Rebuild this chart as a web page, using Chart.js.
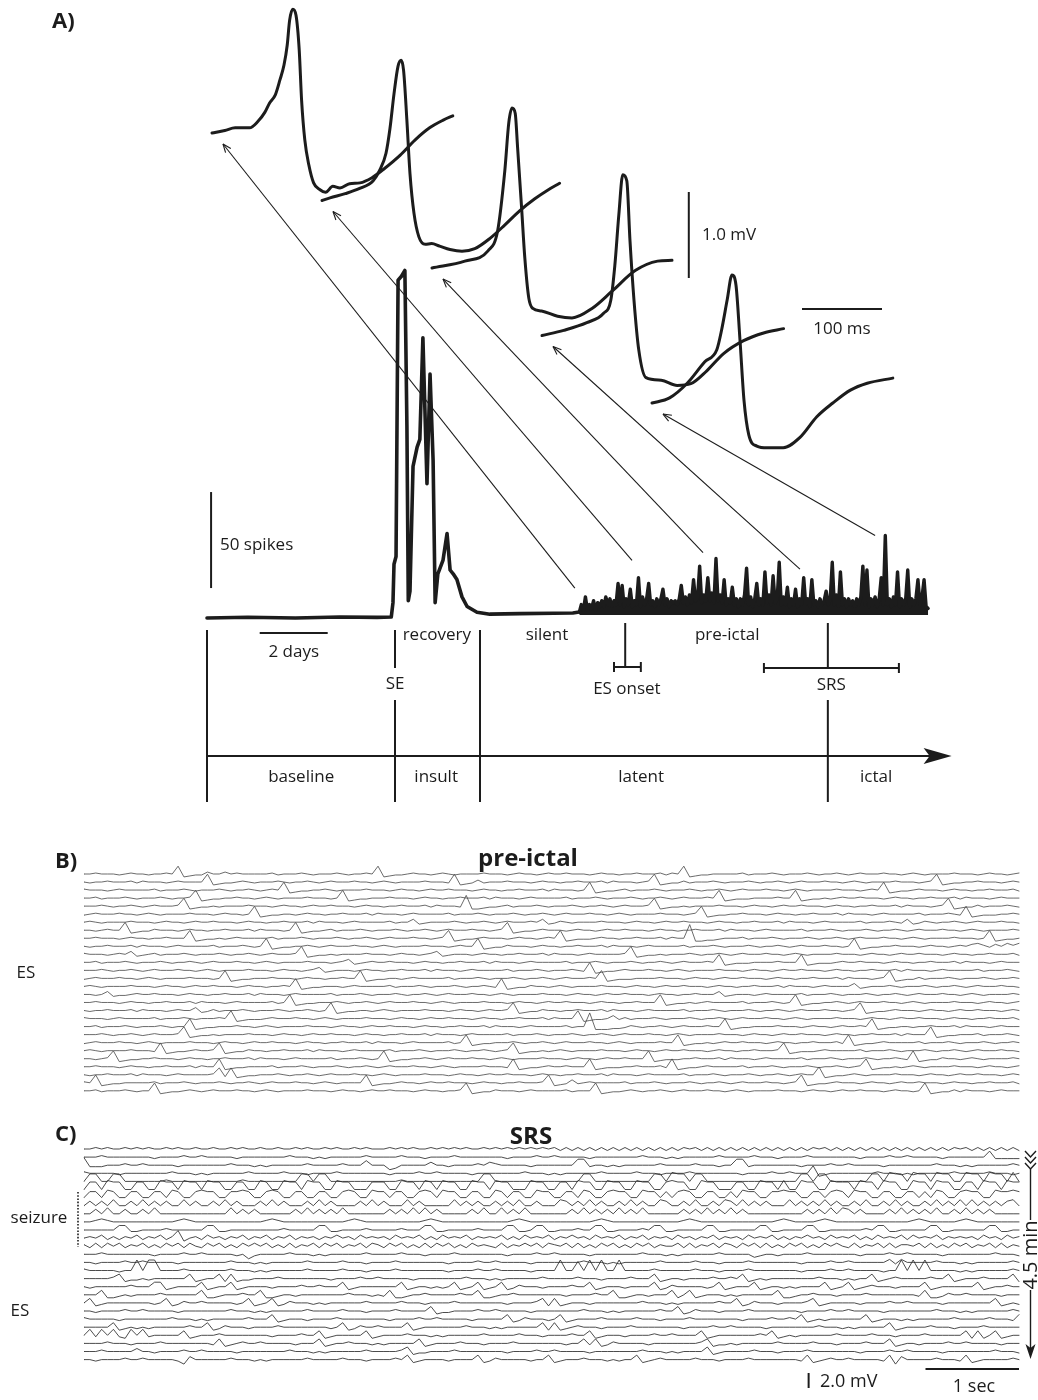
<!DOCTYPE html>
<html>
<head>
<meta charset="utf-8">
<script src="https://cdn.jsdelivr.net/npm/chart.js@4.4.1/dist/chart.umd.min.js"></script>
<style>
  body { margin: 0; background: #fff; }
  #page { position: relative; width: 1038px; height: 1400px; background: #fff; }
  canvas { position: absolute; left: 0; }
</style>
</head>
<body>
<div id="page">
  <canvas id="panelA" width="1038" height="810" style="top:0"></canvas>
  <canvas id="panelB" width="1038" height="260" style="top:840px"></canvas>
  <canvas id="panelC" width="1038" height="280" style="top:1120px"></canvas>
</div>
<script>
// ---------- A) spike count over days ----------
const preDays = [0, 1.2, 2.6, 3.9, 5.0, 5.42, 5.47, 5.5, 5.56, 5.62, 5.72, 5.82, 5.88, 5.92, 5.97, 6.06, 6.18, 6.26, 6.35, 6.47, 6.56, 6.65, 6.71, 6.79, 6.94, 7.06, 7.15, 7.24, 7.35, 7.5, 7.65, 7.94, 8.32, 9.2, 10.2, 10.76, 10.9];
const preSpikes = [0, 0.4, 0, 0.5, 0.3, 0.5, 8, 28, 32, 176, 178, 181, 100, 9, 14, 79, 89, 93, 146, 70, 127, 82, 8, 23, 30, 44, 25, 23, 20, 11, 6, 3, 2, 2.3, 2.5, 2.6, 3];
// latent period, one bin every 0.06 day from day 10.95
const latentStartDay = 10.95;
const latentStepDays = 0.06;
const latentSpikes = [
  3, 7, 4, 11, 4, 7, 5, 9, 4, 8,
  6, 9, 6, 11, 7, 10, 6, 9, 7, 18,
  7, 17, 6, 10, 7, 15, 6, 9, 7, 21,
  6, 11, 7, 10, 18, 7, 9, 6, 10, 7,
  10, 15, 7, 10, 6, 9, 8, 9, 7, 10,
  17, 8, 11, 7, 12, 8, 20, 9, 11, 27,
  8, 12, 9, 21, 9, 13, 8, 31, 9, 12,
  8, 20, 7, 10, 8, 16, 7, 10, 6, 10,
  7, 12, 26, 7, 11, 6, 10, 18, 7, 10,
  7, 24, 8, 12, 7, 22, 8, 10, 29, 7,
  11, 7, 16, 6, 10, 7, 15, 6, 10, 7,
  21, 7, 10, 6, 20, 7, 9, 6, 10, 7,
  9, 14, 7, 10, 29, 7, 12, 6, 24, 7,
  10, 6, 10, 7, 9, 6, 10, 7, 11, 27,
  7, 25, 6, 10, 7, 11, 6, 10, 21, 7,
  43, 7, 10, 6, 11, 7, 24, 6, 10, 7,
  10, 25, 6, 10, 7, 10, 20, 7, 11, 20,
  6, 5
];

// averaged spike waveforms (ms, mV), one per time point
const wf1T = [0, 16, 29, 47, 57, 66, 72, 79, 85, 90, 94, 97, 101, 105, 109, 112, 116, 121, 127, 135, 142, 151, 160, 172, 185, 200, 216, 235, 254, 272, 289, 301];
const wf1V = [0, 0.03, 0.06, 0.06, 0.13, 0.24, 0.35, 0.44, 0.62, 0.79, 1.02, 1.31, 1.44, 1.37, 0.97, 0.38, -0.08, -0.37, -0.58, -0.66, -0.69, -0.62, -0.64, -0.59, -0.58, -0.52, -0.41, -0.26, -0.08, 0.06, 0.15, 0.2];
const wf2T = [0, 10, 29, 47, 64, 72, 80, 85, 90, 95, 99, 102, 106, 110, 115, 121, 129, 137, 147, 160, 175, 191, 210, 229, 247, 266, 282, 297];
const wf2V = [0, 0.03, 0.08, 0.14, 0.23, 0.35, 0.55, 0.84, 1.24, 1.56, 1.63, 1.51, 0.95, 0.31, -0.15, -0.42, -0.51, -0.5, -0.53, -0.57, -0.59, -0.56, -0.44, -0.28, -0.12, 0.02, 0.12, 0.2];
const wf3T = [0, 41, 70, 82, 91, 96, 100, 104, 107, 112, 116, 121, 126, 137, 157, 175, 200, 225, 254, 282, 300];
const wf3V = [0, 0.08, 0.2, 0.43, 1.13, 1.69, 1.86, 1.8, 1.4, 0.7, 0.12, -0.35, -0.47, -0.5, -0.56, -0.58, -0.47, -0.27, -0.03, 0.08, 0.09];
const wf4T = [0, 27, 56, 77, 86, 91, 96, 101, 106, 110, 115, 121, 130, 149, 169, 186, 206, 227, 252, 277, 302];
const wf4V = [0, 0.06, 0.15, 0.26, 0.41, 0.81, 1.4, 1.87, 1.8, 1.1, 0.41, -0.17, -0.49, -0.52, -0.58, -0.56, -0.41, -0.21, -0.06, 0.03, 0.08];
const wf5T = [0, 22, 44, 66, 81, 87, 94, 100, 105, 110, 115, 121, 131, 144, 164, 185, 206, 226, 248, 269, 301];
const wf5V = [0, 0.06, 0.23, 0.48, 0.62, 0.85, 1.2, 1.49, 1.37, 0.73, 0.03, -0.37, -0.5, -0.52, -0.52, -0.4, -0.16, 0, 0.15, 0.23, 0.29];

// where each waveform was taken on the count trace
const arrowDays = [10.82, 12.5, 14.59, 17.44, 19.65];
const arrowSpikes = [15.6, 30, 34, 25.5, 43];

// timeline
const phaseNames = ["baseline", "insult", "latent", "ictal"];
const phaseLabelDays = [2.77, 6.74, 12.77, 19.68];
const periodNames = ["recovery", "silent", "pre-ictal"];
const periodLabelDays = [6.76, 10.0, 15.3];
const seDay = 5.53;
const insultEndDay = 8.03;
const esOnsetDay = 12.3;
const esOnsetRange = [11.97, 12.76];
const srsDay = 18.26;
const srsRange = [16.38, 20.35];
const timelineEndDay = 21.9;

// ---------- B) pre-ictal and C) SRS traces, 10 s each ----------
// one char per sample (base 36), 3 = baseline
const preictalTraces = [
  "3343332343 323343b012 2533534333 3342333432 3334323343 b012234332 3432333343 3323433234 3343332343 3233433342 43b0122333 3342333432 3334323343 2343334332 3432333343 3323433234",
  "3233433342 4333234333 3b01223432 3334323343 2343334332 3432333343 332b012523 3343332343 3233433342 4333234b01 2242333432 3334323343 2343334332 3432333343 33234b0122 3343332343",
  "4333234333 3342333432 3334323343 2343b01223 3432333343 3323433234 3343332343 3233433342 433323b012 2342333432 3334323343 2343334332 3432333343 332343b012 2343332343 3233433342",
  "3342333432 333432334b 0122334332 3432333343 3323b01223 3343332343 3233433342 4333234333 3342333432 3334323343 23433343b0 1222333343 3b01223234 3343332343 3233433342 4333234333",
  "3334323343 2343334b01 2232333343 3323433234 3343332343 3233433342 43332e0012 2342333432 3334323343 2343334b01 2232333343 3323433234 3343332343 3233433342 4333234b01 2242333432",
  "2343334332 3432333343 332343323b 0122332343 3233433342 4333234333 3342333432 3334323343 2343334332 3432333343 33234b0122 3343332343 3233433342 4333234333 3342333432 b012223343",
  "3432333343 3323433234 3343332343 3233433342 4333234333 3342336123 3334323343 2343334361 2432333343 3323433234 3343332343 3233433342 4333234333 3342333432 6124323343 2343334332",
  "3323433b01 2243332343 3233433342 433323b012 2342333432 3334323343 2343334332 34b0122343 3323433234 3343332343 3233433342 4333234333 3342333432 3334323343 2343334332 3432333343",
  "3343332343 32334333b0 1223234333 3342333432 3334323343 2343334332 34b0122343 3323433234 3b01222343 3233433342 433h001123 3342333432 3334323343 2343334332 3432333343 3323b01223",
  "3233433342 4333234333 3342333432 3b01223343 2343334332 3432333343 3323433b01 2243332343 3233433342 4333234333 3342333432 3334323343 2343334332 3b01223343 3323433234 3564253646",
  "4333234361 2342333432 3334323343 2343334b01 2232333343 3323433234 6123332343 3233433342 4333234333 334b012232 3334323343 2343334332 3432333343 3323433234 3343332343 3233433342",
  "3342333432 3334323343 2343334332 3432333343 3323461234 3343332343 3233433342 4333234333 3342333432 3334323343 23433343b0 1222333343 33b0122234 3343332343 3233433342 4333234333",
  "3334323343 2343334332 3432333343 3323433234 6123332343 3233433342 4333234333 3342333432 333432b012 2343334332 3432333343 3323433234 3343332343 3233433342 4333234333 3342333432",
  "2343334332 3432333343 3323b01223 3343332343 3233433b01 2233234333 3342333432 3334323343 23433343b0 1222333343 3323433234 3343332343 3233433342 4333234b01 2242333432 3334323343",
  "3432333343 3323433234 3343332343 323343b012 2333234333 3342333432 3334323343 2b01224332 3432333343 3323433234 3343332343 3233433342 4333234333 3612333432 3334323343 2343334332",
  "3323612234 3343332343 3233433342 4333234333 3342333432 3334323343 2343334332 3432333343 3323433234 3343332343 3233433361 2333234333 3342333432 3334323343 2343334332 3432333343",
  "3343332343 3233433342 4333234333 33423b0122 3334323343 2343334332 3432333343 3323433234 3343332343 32334333b0 1223234333 3342333432 3b01223343 2343334332 3432333343 3323433234",
  "3233433342 4333234336 1242333432 3334323343 23b0122332 3432333343 3323433234 334b012243 3233433342 4333234333 3342333432 3334323343 2343334332 34b0122343 3323433234 3343332343",
  "4333234333 3342333432 33343b0122 2343334332 3432333343 3323433234 3343332343 3233433342 4333b01223 6242333432 3334323343 2343334332 3432333343 3323433234 3343332343 3233433342",
  "3342333432 33343233b0 1223334332 3432333343 3323433234 3343332343 3233433342 4333234333 334233h000 1124323343 234333433b 0122333343 3323433234 3343b01223 3233433342 4333234333",
  "3334323343 2343334b01 2232333343 3323433234 3343332343 3233433342 4333234333 3342333432 3334323343 2343334332 3432333343 3323433234 3343332343 3233433342 4333b01223 3342333432",
  "2343334332 3432333343 3323433234 3343332343 3233433342 4333234333 33423b0122 3334323343 2343334332 3432333343 3b01223234 3343332343 3233433342 b012234333 3342333432 3334323343",
  "3432333343 332b012234 334b012243 3233433342 4333234333 3342333432 3334323343 234b012232 3432333343 3323433234 3343332343 323343334b 0122234333 3342333432 3334323343 2343334332",
  "33234b0122 3343332343 3233433342 4333234333 3342333432 3b01223343 2343334332 3432333343 3323433234 334333b012 2233433342 4333234333 3342333432 3334323343 2b01224332 3432333343",
  "3343332343 3233433342 433b012233 3342333432 3334323343 2343334332 3432333343 332b012234 334333b012 2233433342 b012234333 3342333432 3334323343 234b012232 3432333343 3323433234",
  "3233433342 4333234333 334a1a0122 3334323343 2343334332 3432333343 3323433234 3343332343 3233433342 4333234333 3342333432 3334323343 23433b0122 3432333343 3323433234 3343332343",
  "43b0122333 3342333432 3334323343 2343334332 34323333b0 1223433234 3343332343 323343334b 0126234333 3342333432 3334323343 2343334332 34b0122343 3323433234 3343332343 3233433342",
  "3342333432 33b0122343 2343334332 3432333343 3323433234 3343332343 32334b0122 4333234333 3342333b01 2234323343 2343334332 3432333343 3323433234 3343332343 323b012242 4333234333"
];
const srsTraces = [
  "3343433434 3433434334 3343343433 4334334343 3434334343 3343434334 3434343343 4343434343 4242424242 4242424242 4243424242 4242424242 4242434242 4242424242 4242424243 4242424242",
  "3334333333 3323333433 4333332333 3333343332 3233333343 3333433323 3334333333 3323333433 4333332333 3333343332 3233333343 3333433323 3334333333 3323333433 4333332333 3333722222",
  "8222333433 4333332333 3333343332 3233333343 3333433363 3301333335 3323333435 4333332333 3333772332 3233333343 3333433323 3772333333 3323333433 4333332333 3333343332 3233333343",
  "4333332333 3333343332 3233333343 3333433323 3334333333 3323333433 4333332333 3333343332 3233333343 3333433323 3334333333 3323333433 4333812333 3333343332 3233333343 3333433323",
  "3883388333 3333433333 3333333433 3333333883 8833333333 3333433333 3333333388 3333333333 3333388333 3333333883 9883883333 3333333333 3388388333 3333883988 3988398833 9883988393",
  "3883988338 8339883988 3988338833 9833988398 8339883338 8833988398 3988339883 9883339883 3883988339 8833988338 9883398833 3883398839 3398833988 8398839883 3988398833 8839883988",
  "3773873377 3377387337 8773377873 3787337733 7733787338 7737733787 3877337733 8737733877 3377387337 8773387737 3787337733 7387733778 7733773787 3877337733 7737387337 8773387787",
  "3636373363 7363633736 3363736333 6373633363 7363333637 3633373633 3337363633 6363733633 3763637363 3637363376 3363733637 6373636333 7363637363 3637336373 6336373637 3736363673",
  "3363733633 6373333333 3333373636 3333336373 6363733333 3363637373 6333336373 3736373333 3336373636 3736373333 3363637363 7363333333 3336363737 6363333637 3636373363 7363633333",
  "3345433333 3333334543 3333333333 3454333333 3333345433 3333333345 4333333333 3334543333 3333333454 3333333333 3345433333 3333333345 4333345433 3333333333 3454333334 5433333333",
  "3333336622 3333433333 3662233333 3333433333 6622333343 3333433366 2233333433 3366223662 2333433662 2333343662 2333336622 3333366223 3336622333 3334366223 3333662233 3333662233",
  "3435242435 2435248134 2534243524 3524352434 2435342534 3425343524 2534352434 3524253435 2435342534 3524352434 2534243524 3425343524 2435342534 3524253435 2534352434 3425342534",
  "4252535243 5242535253 2535242535 3524252435 2535243525 4253524252 5352425343 2524353525 4352524253 5242535243 3525243525 4253525242 5352425353 2524352524 4352524253 5243525243",
  "3334333333 3323333433 4333332302 3333343332 3233333343 3333433323 3334333333 3323333433 4333332333 3333343332 3233333343 3333123323 3334333333 3323333433 4333332333 3333343332",
  "3323333433 4333332333 3333343332 3233333343 3333433323 3334333333 3323333433 4333332333 3333343332 3233333343 3333433323 3334333333 3323333433 4333333525 3333343332 3233333343",
  "433333233a 3aa3333433 3333343332 3233333343 3333433323 3334333333 3323333433 4333332333 3a3393a3a3 3a33333433 3333433323 3334333333 3323333433 433333233a 3a3a333332 3233333343",
  "3333346122 3233333361 2336161223 3334333333 3323333433 4333332333 3333343332 3233333343 3333433323 3334333612 3323333433 4361232333 3333343332 3233612343 3333433612 3334333361",
  "3233333343 3366123333 6123361233 3323333433 4333612333 3333612332 3236123612 3612433323 3334336123 3323333612 4333332361 2333612332 3233336123 6123433323 3336123333 3361233433",
  "3336112323 3334333333 6112333433 6112332333 3333343332 3261123343 3333433611 2334333333 3323333433 6112332333 6136123332 3233333361 1233433323 3334333333 3326112433 4333332333",
  "3612333333 3323612433 4333332361 2361243332 3233333343 3333433323 3334333333 3323333461 6123332333 3333343332 3233333343 3612433323 3334612333 3323333433 4333332333 3333361232",
  "3323333433 4333332333 3333343332 3233333343 3333433323 3334333336 1223333433 4333332333 3333343332 3233333343 3612433323 3334333333 3323333433 4333332333 3333343332 3233333343",
  "4333332333 3333343332 3233333343 3361233323 3334333333 3323333433 4333332333 3361243332 3612333343 3333433323 3334333333 3323333433 4361232333 3336123332 3233333343 3333433326",
  "3333361232 3233333343 3612433323 3334333333 3323612433 4333361233 3333343332 3233333361 6123433323 3334333333 3323333433 4333332333 3333343332 3233333612 3333433323 3334333333",
  "3727372173 7233333612 3334333333 3323333433 6123333361 2333343332 3233333343 3333433323 3334336123 3323333433 4333361233 3333343612 3233333343 3333433323 3334333333 6161361233",
  "3333433323 3334333333 3326123433 4333332333 6123343332 3233333612 3333433323 3334333333 3323362612 4333332333 3333346122 3233333343 3333433323 3334333612 3323333433 4333332333",
  "3334333335 3323333433 4333332333 3333343332 3233333343 3333461223 3334333333 3323333433 4333332333 3333343332 3233336123 3333433323 3334333333 3323333433 4333332333 3333343332",
  "3323333433 4333332053 3333343332 3233333343 3333433323 3334361233 3323333612 4333332336 1233343332 3233612343 3333433323 3334333333 3326123433 4333332605 3333343332 6123333343"
];

const TRACE_SECONDS = 10;
const PREICTAL_UNIT_MV = 0.13;
const SRS_UNIT_MV = 0.2;

// layout of the five waveforms (diagonal cascade)
const WAVE_STEP_MS = 137.5;
const WAVE_STEP_MV = 0.785;

const FONT = "'Open Sans', 'DejaVu Sans', sans-serif";
const INK = "#1c1c1c";

const decodeTrace = (code, row, unitMv, rowMv) => {
  const chars = code.replace(/ /g, "").split("");
  return chars.map((ch, i) => ({
    x: (i * TRACE_SECONDS) / (chars.length - 1),
    y: (parseInt(ch, 36) - 3) * unitMv - row * rowMv,
  }));
};

const seg = (ctx, x0, y0, x1, y1) => {
  ctx.beginPath();
  ctx.moveTo(x0, y0);
  ctx.lineTo(x1, y1);
  ctx.stroke();
};

const label = (ctx, text, x, y, size, opts = {}) => {
  ctx.save();
  ctx.font = (opts.bold ? "bold " : "") + size + "px " + FONT;
  ctx.fillStyle = INK;
  ctx.textAlign = opts.align || "center";
  ctx.textBaseline = "middle";
  if (opts.rotate) {
    ctx.translate(x, y);
    ctx.rotate(opts.rotate);
    ctx.fillText(text, 0, 0);
  } else {
    ctx.fillText(text, x, y);
  }
  ctx.restore();
};

const hiddenScale = (axis, min, max) => ({ type: "linear", axis: axis, display: false, min: min, max: max });

const baseOptions = (scales) => ({
  responsive: false,
  animation: false,
  events: [],
  layout: { padding: 0 },
  elements: { point: { radius: 0 }, line: { borderJoinStyle: "round", borderCapStyle: "round" } },
  plugins: { legend: { display: false }, tooltip: { enabled: false }, title: { display: false } },
  scales: scales,
});

// ---------- panel A ----------
const preSeries = preDays.map((d, i) => ({ x: d, y: preSpikes[i] }));
const latentSeries = latentSpikes.map((v, i) => ({ x: latentStartDay + i * latentStepDays, y: v }));

const waves = [
  [wf1T, wf1V],
  [wf2T, wf2V],
  [wf3T, wf3V],
  [wf4T, wf4V],
  [wf5T, wf5V],
];

const waveDatasets = waves.map(([t, v], k) => ({
  data: t.map((ms, i) => ({ x: ms + k * WAVE_STEP_MS, y: v[i] - k * WAVE_STEP_MV })),
  xAxisID: "ms",
  yAxisID: "mv",
  borderColor: INK,
  borderWidth: 3,
  cubicInterpolationMode: "monotone",
  pointRadius: 0,
}));

const panelAExtras = {
  id: "panelAExtras",
  afterDatasetsDraw(chart) {
    const ctx = chart.ctx;
    const xD = chart.scales.days, yS = chart.scales.spikes;
    const xT = chart.scales.ms, yV = chart.scales.mv;
    const d = (v) => xD.getPixelForValue(v);
    ctx.save();
    ctx.strokeStyle = INK;
    ctx.fillStyle = INK;

    // arrows from the count trace to each waveform
    ctx.lineWidth = 1.1;
    arrowDays.forEach((day, k) => {
      const x0 = d(day), y0 = yS.getPixelForValue(arrowSpikes[k]);
      const x1 = xT.getPixelForValue(waves[k][0][0] + k * WAVE_STEP_MS) + 11;
      const y1 = yV.getPixelForValue(waves[k][1][0] - k * WAVE_STEP_MV) + 11;
      seg(ctx, x0, y0, x1, y1);
      const a = Math.atan2(y0 - y1, x0 - x1);
      seg(ctx, x1, y1, x1 + 9 * Math.cos(a + 0.38), y1 + 9 * Math.sin(a + 0.38));
      seg(ctx, x1, y1, x1 + 9 * Math.cos(a - 0.38), y1 + 9 * Math.sin(a - 0.38));
    });

    // scale bars
    ctx.lineWidth = 2;
    seg(ctx, d(0.12), yS.getPixelForValue(15.6), d(0.12), yS.getPixelForValue(65.6));
    seg(ctx, d(1.55), 633, d(3.55), 633);
    seg(ctx, xT.getPixelForValue(596), yV.getPixelForValue(-0.686), xT.getPixelForValue(596), yV.getPixelForValue(-1.686));
    seg(ctx, xT.getPixelForValue(737.5), yV.getPixelForValue(-2.047), xT.getPixelForValue(837.5), yV.getPixelForValue(-2.047));
    label(ctx, "50 spikes", 220, 545, 17, { align: "left" });
    label(ctx, "2 days", d(2.55), 652, 17);
    label(ctx, "1.0 mV", 702, 235, 17, { align: "left" });
    label(ctx, "100 ms", xT.getPixelForValue(787.5), 329, 17);

    // timeline
    seg(ctx, d(0), 630, d(0), 802);
    seg(ctx, d(seDay), 630, d(seDay), 668);
    seg(ctx, d(seDay), 700, d(seDay), 802);
    seg(ctx, d(insultEndDay), 630, d(insultEndDay), 802);
    seg(ctx, d(esOnsetDay), 623, d(esOnsetDay), 667);
    seg(ctx, d(esOnsetRange[0]), 667, d(esOnsetRange[1]), 667);
    seg(ctx, d(esOnsetRange[0]), 662, d(esOnsetRange[0]), 672);
    seg(ctx, d(esOnsetRange[1]), 662, d(esOnsetRange[1]), 672);
    seg(ctx, d(srsDay), 623, d(srsDay), 668);
    seg(ctx, d(srsDay), 700, d(srsDay), 802);
    seg(ctx, d(srsRange[0]), 668, d(srsRange[1]), 668);
    seg(ctx, d(srsRange[0]), 663, d(srsRange[0]), 673);
    seg(ctx, d(srsRange[1]), 663, d(srsRange[1]), 673);
    const tip = d(timelineEndDay);
    seg(ctx, d(0), 756, tip - 12, 756);
    ctx.beginPath();
    ctx.moveTo(tip, 756);
    ctx.lineTo(tip - 28, 748);
    ctx.lineTo(tip - 22, 756);
    ctx.lineTo(tip - 28, 764);
    ctx.closePath();
    ctx.fill();

    periodNames.forEach((n, i) => label(ctx, n, d(periodLabelDays[i]), 635, 17));
    phaseNames.forEach((n, i) => label(ctx, n, d(phaseLabelDays[i]), 777, 17));
    label(ctx, "SE", d(seDay), 684, 17);
    label(ctx, "ES onset", d(esOnsetDay + 0.05), 689, 17);
    label(ctx, "SRS", d(srsDay + 0.1), 685, 17);
    label(ctx, "A)", 52, 22, 22, { bold: true, align: "left" });
    ctx.restore();
  },
};

new Chart(document.getElementById("panelA"), {
  type: "line",
  data: {
    datasets: [
      {
        data: preSeries,
        xAxisID: "days",
        yAxisID: "spikes",
        borderColor: INK,
        borderWidth: 3.6,
        tension: 0,
        pointRadius: 0,
      },
      {
        data: latentSeries,
        xAxisID: "days",
        yAxisID: "spikes",
        borderColor: INK,
        backgroundColor: INK,
        fill: { value: 1.5 },
        borderWidth: 3.4,
        tension: 0,
        pointRadius: 0,
      },
    ].concat(waveDatasets),
  },
  options: baseOptions({
    x: { display: false },
    y: { display: false },
    days: hiddenScale("x", -207 / 34, (1038 - 207) / 34),
    spikes: hiddenScale("y", -100, 618 / 1.92),
    ms: hiddenScale("x", -212 / 0.8, (1038 - 212) / 0.8),
    mv: hiddenScale("y", 133 / 86 - 810 / 86, 133 / 86),
  }),
  plugins: [panelAExtras],
});

// ---------- panel B ----------
const traceDatasets = (codes, unitMv, rowMv, color) =>
  codes.map((code, row) => ({
    data: decodeTrace(code, row, unitMv, rowMv),
    borderColor: color,
    borderWidth: 1,
    tension: 0,
    pointRadius: 0,
  }));

const panelBExtras = {
  id: "panelBExtras",
  afterDatasetsDraw(chart) {
    const ctx = chart.ctx;
    label(ctx, "B)", 55, 22, 22, { bold: true, align: "left" });
    label(ctx, "pre-ictal", 528, 19, 24, { bold: true });
    label(ctx, "ES", 26, 133, 17);
  },
};

new Chart(document.getElementById("panelB"), {
  type: "line",
  data: { datasets: traceDatasets(preictalTraces, PREICTAL_UNIT_MV, 8.03 / 7.5, "rgba(70,70,70,0.8)") },
  options: baseOptions({
    x: hiddenScale("x", -84 / 93.5, -84 / 93.5 + 1038 / 93.5),
    y: hiddenScale("y", 34 / 7.5 - 260 / 7.5, 34 / 7.5),
  }),
  plugins: [panelBExtras],
});

// ---------- panel C ----------
const panelCExtras = {
  id: "panelCExtras",
  afterDatasetsDraw(chart) {
    const ctx = chart.ctx;
    const xs = chart.scales.x, ys = chart.scales.y;
    ctx.save();
    ctx.strokeStyle = INK;
    ctx.fillStyle = INK;
    label(ctx, "C)", 55, 15, 22, { bold: true, align: "left" });
    label(ctx, "SRS", 531, 17, 24, { bold: true });
    label(ctx, "seizure", 39, 98, 17);
    label(ctx, "ES", 20, 191, 17);

    // seizure bracket
    ctx.lineWidth = 1.6;
    ctx.setLineDash([1.6, 1.6]);
    seg(ctx, 78, 72, 78, 127);
    ctx.setLineDash([]);

    // 4.5 min time arrow
    ctx.lineWidth = 1.4;
    [31, 37, 43].forEach((y) => {
      ctx.beginPath();
      ctx.moveTo(1025, y);
      ctx.lineTo(1030.5, y + 6);
      ctx.lineTo(1036, y);
      ctx.stroke();
    });
    seg(ctx, 1030.5, 49, 1030.5, 100);
    seg(ctx, 1030.5, 170, 1030.5, 228);
    ctx.beginPath();
    ctx.moveTo(1030.5, 239);
    ctx.lineTo(1025.5, 224);
    ctx.lineTo(1030.5, 228);
    ctx.lineTo(1035.5, 224);
    ctx.closePath();
    ctx.fill();
    label(ctx, "4.5 min", 1031, 135, 20, { rotate: -Math.PI / 2 });

    // scale bars
    ctx.lineWidth = 2;
    seg(ctx, xs.getPixelForValue(7.75), ys.getPixelForValue(-29.87), xs.getPixelForValue(7.75), ys.getPixelForValue(-31.87));
    seg(ctx, xs.getPixelForValue(9), 249, xs.getPixelForValue(10), 249);
    label(ctx, "2.0 mV", 820, 262, 18, { align: "left" });
    label(ctx, "1 sec", 974, 267, 18);
    ctx.restore();
  },
};

new Chart(document.getElementById("panelC"), {
  type: "line",
  data: { datasets: traceDatasets(srsTraces, SRS_UNIT_MV, 8.1 / 7.5, "rgba(45,45,45,0.85)") },
  options: baseOptions({
    x: hiddenScale("x", -84 / 93.5, -84 / 93.5 + 1038 / 93.5),
    y: hiddenScale("y", 29 / 7.5 - 280 / 7.5, 29 / 7.5),
  }),
  plugins: [panelCExtras],
});
</script>
</body>
</html>
